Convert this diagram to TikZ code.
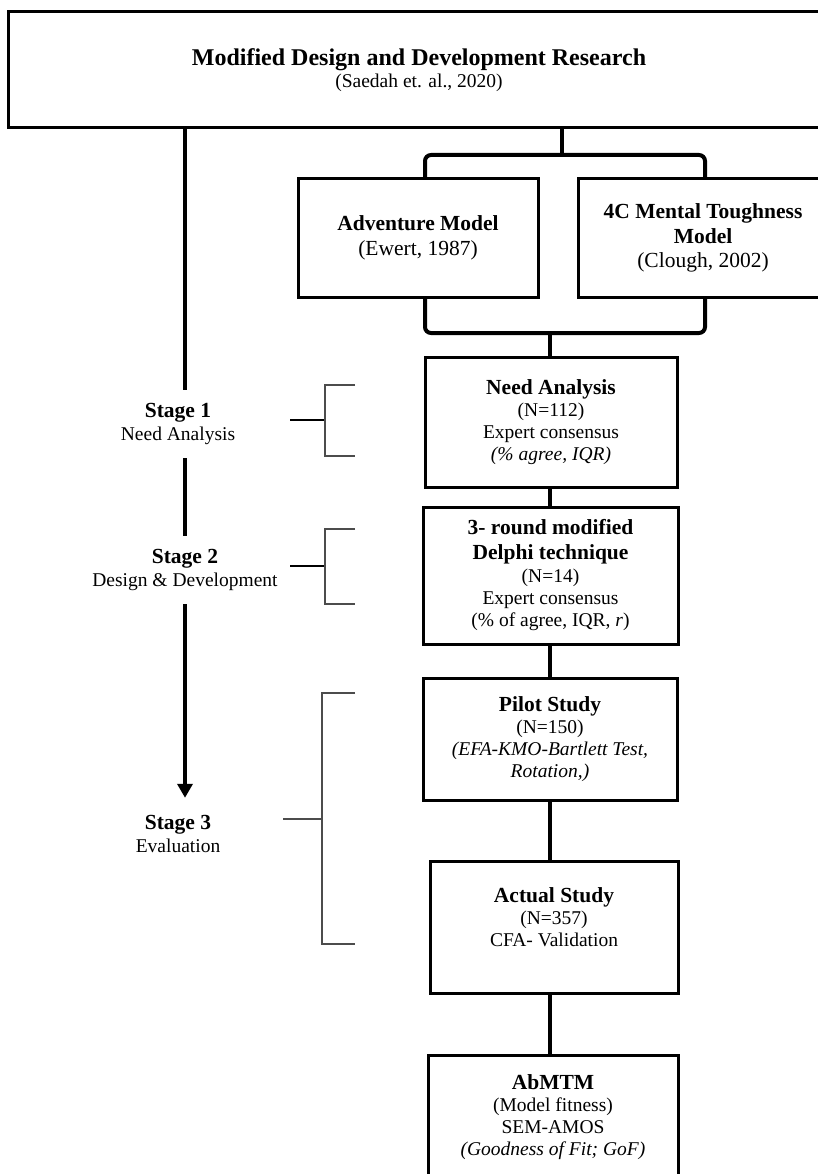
\documentclass[tikz,border=0pt]{standalone}
\usepackage{fontspec}
\setmainfont{Liberation Serif}
\usetikzlibrary{arrows.meta}
\newcommand\mybf[1]{{\fontsize{21.5}{22}\selectfont\bfseries #1}}
\begin{document}
\begin{tikzpicture}[x=1pt,y=-1pt,
  box/.style={draw, line width=3pt, inner sep=0pt, align=center, font=\fontsize{19.5}{22}\selectfont},
  modelbox/.style={box, font=\fontsize{21.5}{25}\selectfont},
  txt/.style={inner sep=0pt, align=center, font=\fontsize{19.5}{22}\selectfont},
  stage/.style={inner sep=0pt, align=center, font=\fontsize{19.5}{23}\selectfont},
  conn/.style={line width=4pt},
  mainline/.style={line width=4.5pt},
  brk/.style={line width=1.6pt, draw=black!70},
  stem/.style={line width=2.7pt}]
\useasboundingbox (0,0) rectangle (818,1174);
\clip (0,0) rectangle (818,1174);

% boxes
\node[box, minimum width=822, minimum height=116] (top) at (419,70)
  {{\fontsize{24}{21}\selectfont\bfseries Modified Design and Development Research}\\(Saedah et. al., 2020)};
\node[modelbox, minimum width=240, minimum height=118] (adv) at (418,238)
  {{\bfseries Adventure Model}\\(Ewert, 1987)};
\node[modelbox, minimum width=250, minimum height=118, font=\fontsize{21.5}{24.5}\selectfont] (mt) at (703,238)
  {{\bfseries 4C Mental Toughness}\\{\bfseries Model}\\(Clough, 2002)};
\node[box, minimum width=252, minimum height=130] (need) at (551,422)
  {\mybf{Need Analysis}\\(N=112)\\Expert consensus\\\textit{(\% agree, IQR)}};
\node[box, minimum width=255, minimum height=137] (delphi) at (550.5,575.5)
  {\mybf{3- round modified}\\[3pt]\mybf{Delphi technique}\\[1pt](N=14)\\Expert consensus\\(\% of agree, IQR, \textit{r})};
\node[box, minimum width=254, minimum height=122] (pilot) at (550,739)
  {\mybf{Pilot Study}\\(N=150)\\\textit{(EFA-KMO-Bartlett Test,}\\\textit{Rotation,)}};
\node[box, minimum width=248, minimum height=132] (actual) at (554,927) {};
\node[txt] (actualtxt) at (554,917) {\mybf{Actual Study}\\(N=357)\\CFA- Validation};
\node[box, minimum width=250, minimum height=125] (abmtm) at (553,1117.5)
  {\mybf{AbMTM}\\(Model fitness)\\SEM-AMOS\\\textit{(Goodness of Fit; GoF)}};

% stage labels
\node[stage, minimum height=68] (s1) at (178,424) {\mybf{Stage 1}\\Need Analysis};
\node[stage, minimum height=68] (s2) at (185,570) {\mybf{Stage 2}\\Design \& Development};
\node[stage, minimum height=72] (s3) at (178,834) {\mybf{Stage 3}\\Evaluation};

% main vertical line
\coordinate (L) at (185,0);
\draw[mainline] (top.south -| L) -- (s1.north -| L);
\draw[mainline] (s1.south -| L) -- (s2.north -| L);
\draw[mainline, -{Triangle[length=14pt, width=15pt]}] (s2.south -| L) -- (s3.north -| L);

% brackets between top box and models
\coordinate (tb) at (562,155);
\coordinate (bl) at (425,155);
\coordinate (br) at (705,155);
\coordinate (bbl) at (425,333);
\coordinate (bbr) at (705,333);
\coordinate (bc) at (550,333);
\draw[conn] (top.south -| tb) -- (tb);
\draw[conn, rounded corners=6pt] (adv.north -| bl) -- (bl) -- (br) -- (mt.north -| br);
\draw[conn, rounded corners=6pt] (adv.south -| bbl) -- (bbl) -- (bbr) -- (mt.south -| bbr);
\draw[conn] (bc) -- (need.north -| bc);

% vertical chain
\coordinate (C) at (550,0);
\draw[conn] (need.south -| C) -- (delphi.north -| C);
\draw[conn] (delphi.south -| C) -- (pilot.north -| C);
\draw[conn] (pilot.south -| C) -- (actual.north -| C);
\draw[conn] (actual.south -| C) -- (abmtm.north -| C);

% left brackets
\draw[stem] (290,420) -- (325,420);
\draw[brk] (355,385) -- (325,385) -- (325,456) -- (355,456);
\draw[stem] (290,566) -- (325,566);
\draw[brk] (355,529) -- (325,529) -- (325,604) -- (355,604);
\draw[brk] (283,819) -- (322,819);
\draw[brk] (355,693) -- (322,693) -- (322,944) -- (355,944);
\end{tikzpicture}
\end{document}
